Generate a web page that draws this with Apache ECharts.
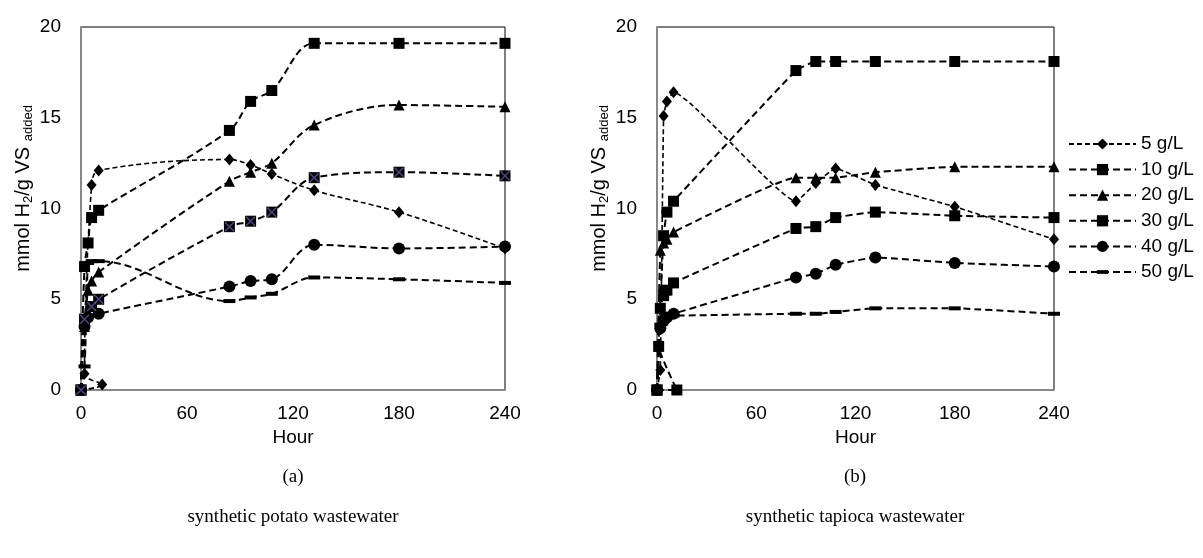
<!DOCTYPE html>
<html>
<head>
<meta charset="utf-8">
<script src="https://cdn.jsdelivr.net/npm/echarts@6/dist/echarts.min.js"></script>
<style>
  html, body { margin: 0; padding: 0; background: #fff; }
  #chart { width: 1203px; height: 558px; }
</style>
</head>
<body>
<div id="chart"></div>
<script>
// hour / mmol H2 per g VS added
const seriesNames = ['5 g/L', '10 g/L', '20 g/L', '30 g/L', '40 g/L', '50 g/L'];
const xTicks = [0, 60, 120, 180, 240];

// (a) synthetic potato wastewater
const potato5 = [[0, 0], [12, 0.3], [2, 0.9], [6, 11.3], [10, 12.1], [84, 12.7], [96, 12.4], [108, 11.9], [132, 11.0], [180, 9.8], [240, 7.8]];
const potato10 = [[0, 0], [2, 6.8], [4, 8.1], [6, 9.5], [10, 9.9], [84, 14.3], [96, 15.9], [108, 16.5], [132, 19.1], [180, 19.1], [240, 19.1]];
const potato20 = [[0, 0], [2, 3.5], [4, 5.5], [6, 6.0], [10, 6.5], [84, 11.5], [96, 12.0], [108, 12.5], [132, 14.6], [180, 15.7], [240, 15.6]];
const potato30 = [[0, 0], [2, 3.9], [6, 4.6], [10, 5.0], [84, 9.0], [96, 9.3], [108, 9.8], [132, 11.7], [180, 12.0], [240, 11.8]];
const potato40 = [[0, 0], [2, 3.5], [4, 4.0], [10, 4.2], [84, 5.7], [96, 6.0], [108, 6.1], [132, 8.0], [180, 7.8], [240, 7.9]];
const potato50 = [[0, 0], [2, 1.3], [4, 7.0], [6, 7.1], [10, 7.1], [84, 4.9], [96, 5.1], [108, 5.3], [132, 6.2], [180, 6.1], [240, 5.9]];

// (b) synthetic tapioca wastewater
const tapioca5 = [[0, 0], [2, 1.1], [4, 15.1], [6, 15.9], [10, 16.4], [84, 10.4], [96, 11.4], [108, 12.2], [132, 11.3], [180, 10.1], [240, 8.3]];
const tapioca10 = [[0, 0], [12, 0], [1, 2.4], [4, 8.5], [6, 9.8], [10, 10.4], [84, 17.6], [96, 18.1], [108, 18.1], [132, 18.1], [180, 18.1], [240, 18.1]];
const tapioca20 = [[0, 0], [2, 7.7], [4, 8.1], [6, 8.3], [10, 8.7], [84, 11.7], [96, 11.7], [108, 11.7], [132, 12.0], [180, 12.3], [240, 12.3]];
const tapioca30 = [[0, 0], [2, 4.5], [4, 5.2], [6, 5.5], [10, 5.9], [84, 8.9], [96, 9.0], [108, 9.5], [132, 9.8], [180, 9.6], [240, 9.5]];
const tapioca40 = [[0, 0], [2, 3.4], [4, 3.8], [6, 4.0], [10, 4.2], [84, 6.2], [96, 6.4], [108, 6.9], [132, 7.3], [180, 7.0], [240, 6.8]];
const tapioca50 = [[0, 0], [2, 3.6], [4, 4.0], [6, 4.1], [10, 4.1], [84, 4.2], [96, 4.2], [108, 4.3], [132, 4.5], [180, 4.5], [240, 4.2]];

const SANS = '"Liberation Sans", Arial, sans-serif';
const SERIF = '"Liberation Serif", "Times New Roman", serif';

// flat bar inside a square box, so the legend keeps it flat too
const dashPath = 'path://M0,0 M12,12 M0,4 L12,4 L12,8 L0,8 Z';
const crossPath = 'path://M0,1 L1,0 L5,4 L9,0 L10,1 L6,5 L10,9 L9,10 L5,6 L1,10 L0,9 L4,5 Z';

// marker per concentration
const markers = [
  { symbol: 'diamond', symbolSize: [10, 12] },
  { symbol: 'rect', symbolSize: 11 },
  { symbol: 'triangle', symbolSize: 11 },
  { symbol: 'rect', symbolSize: 11 },
  { symbol: 'circle', symbolSize: 12 },
  { symbol: dashPath, symbolSize: 12 }
];

const makeLine = (name, data, idx, gridIdx) => ({
  name: name,
  type: 'line',
  xAxisIndex: gridIdx,
  yAxisIndex: gridIdx,
  data: data,
  smooth: gridIdx === 0 ? 0.35 : 0.12,
  symbol: markers[idx].symbol,
  symbolSize: markers[idx].symbolSize,
  showAllSymbol: true,
  itemStyle: { color: '#000' },
  lineStyle: {
    color: '#000',
    width: idx === 0 ? 1.6 : 2,
    type: idx === 0 ? [5, 3] : [7, 4]
  },
  emphasis: { disabled: true },
  animation: false,
  z: 3
});

const tapiocaData = [tapioca5, tapioca10, tapioca20, tapioca30, tapioca40, tapioca50];
const potatoData = [potato5, potato10, potato20, potato30, potato40, potato50];

const series = [];
tapiocaData.forEach((d, i) => series.push(makeLine(seriesNames[i], d, i, 1)));
potatoData.forEach((d, i) => series.push(makeLine(seriesNames[i], d, i, 0)));
// purple cross drawn over the 30 g/L squares of (a)
series.push({
  type: 'scatter',
  xAxisIndex: 0,
  yAxisIndex: 0,
  data: potato30,
  symbol: crossPath,
  symbolSize: 10,
  itemStyle: { color: '#6a55a0' },
  silent: true,
  animation: false,
  z: 4
});

const axisLabelStyle = { fontFamily: SANS, fontSize: 19, color: '#000' };

const makeXAxis = (gridIdx) => ({
  type: 'value',
  gridIndex: gridIdx,
  min: 0,
  max: 240,
  interval: 60,
  name: 'Hour',
  nameLocation: 'middle',
  nameGap: 38,
  nameTextStyle: { fontFamily: SANS, fontSize: 19, color: '#000' },
  axisLine: { show: true, onZero: false, lineStyle: { color: '#888', width: 2 } },
  axisTick: { show: false },
  splitLine: { show: false },
  axisLabel: Object.assign({ margin: 14 }, axisLabelStyle)
});

const makeYAxis = (gridIdx, gap) => ({
  type: 'value',
  gridIndex: gridIdx,
  min: 0,
  max: 20,
  interval: 5,
  name: '{a|mmol H}{b|2}{a|/g VS }{b|added}',
  nameLocation: 'middle',
  nameRotate: 90,
  nameGap: gap,
  nameTextStyle: {
    color: '#000',
    padding: [0, 0, 0, 40],
    rich: {
      a: { fontFamily: SANS, fontSize: 20, color: '#000' },
      b: { fontFamily: SANS, fontSize: 13, color: '#000', padding: [11, 0, 0, 0] }
    }
  },
  axisLine: { show: true, onZero: false, lineStyle: { color: '#888', width: 2 } },
  axisTick: { show: false },
  splitLine: { show: false },
  axisLabel: Object.assign({ margin: 20 }, axisLabelStyle)
});

const chart = echarts.init(document.getElementById('chart'), null, { renderer: 'canvas' });

const option = {
  backgroundColor: '#fff',
  animation: false,
  grid: [
    { left: 81, top: 27, width: 424, height: 363, show: true, borderColor: '#000', borderWidth: 1, containLabel: false },
    { left: 657, top: 27, width: 397, height: 363, show: true, borderColor: '#000', borderWidth: 1, containLabel: false }
  ],
  xAxis: [makeXAxis(0), makeXAxis(1)],
  yAxis: [makeYAxis(0, 46), makeYAxis(1, 46)],
  legend: {
    data: seriesNames,
    orient: 'vertical',
    left: 1068,
    top: 134.5,
    padding: 0,
    itemWidth: 67,
    itemHeight: 14,
    itemGap: 6.6,
    textStyle: { fontFamily: SANS, fontSize: 19, color: '#000' },
    selectedMode: false
  },
  graphic: [
    { type: 'text', x: 293, y: 477, style: { text: '(a)', font: '19px ' + SERIF, fill: '#000', textAlign: 'center', textVerticalAlign: 'middle' } },
    { type: 'text', x: 293, y: 517, style: { text: 'synthetic potato wastewater', font: '19px ' + SERIF, fill: '#000', textAlign: 'center', textVerticalAlign: 'middle' } },
    { type: 'text', x: 855, y: 477, style: { text: '(b)', font: '19px ' + SERIF, fill: '#000', textAlign: 'center', textVerticalAlign: 'middle' } },
    { type: 'text', x: 855, y: 517, style: { text: 'synthetic tapioca wastewater', font: '19px ' + SERIF, fill: '#000', textAlign: 'center', textVerticalAlign: 'middle' } }
  ],
  series: series
};

chart.setOption(option);
</script>
</body>
</html>
